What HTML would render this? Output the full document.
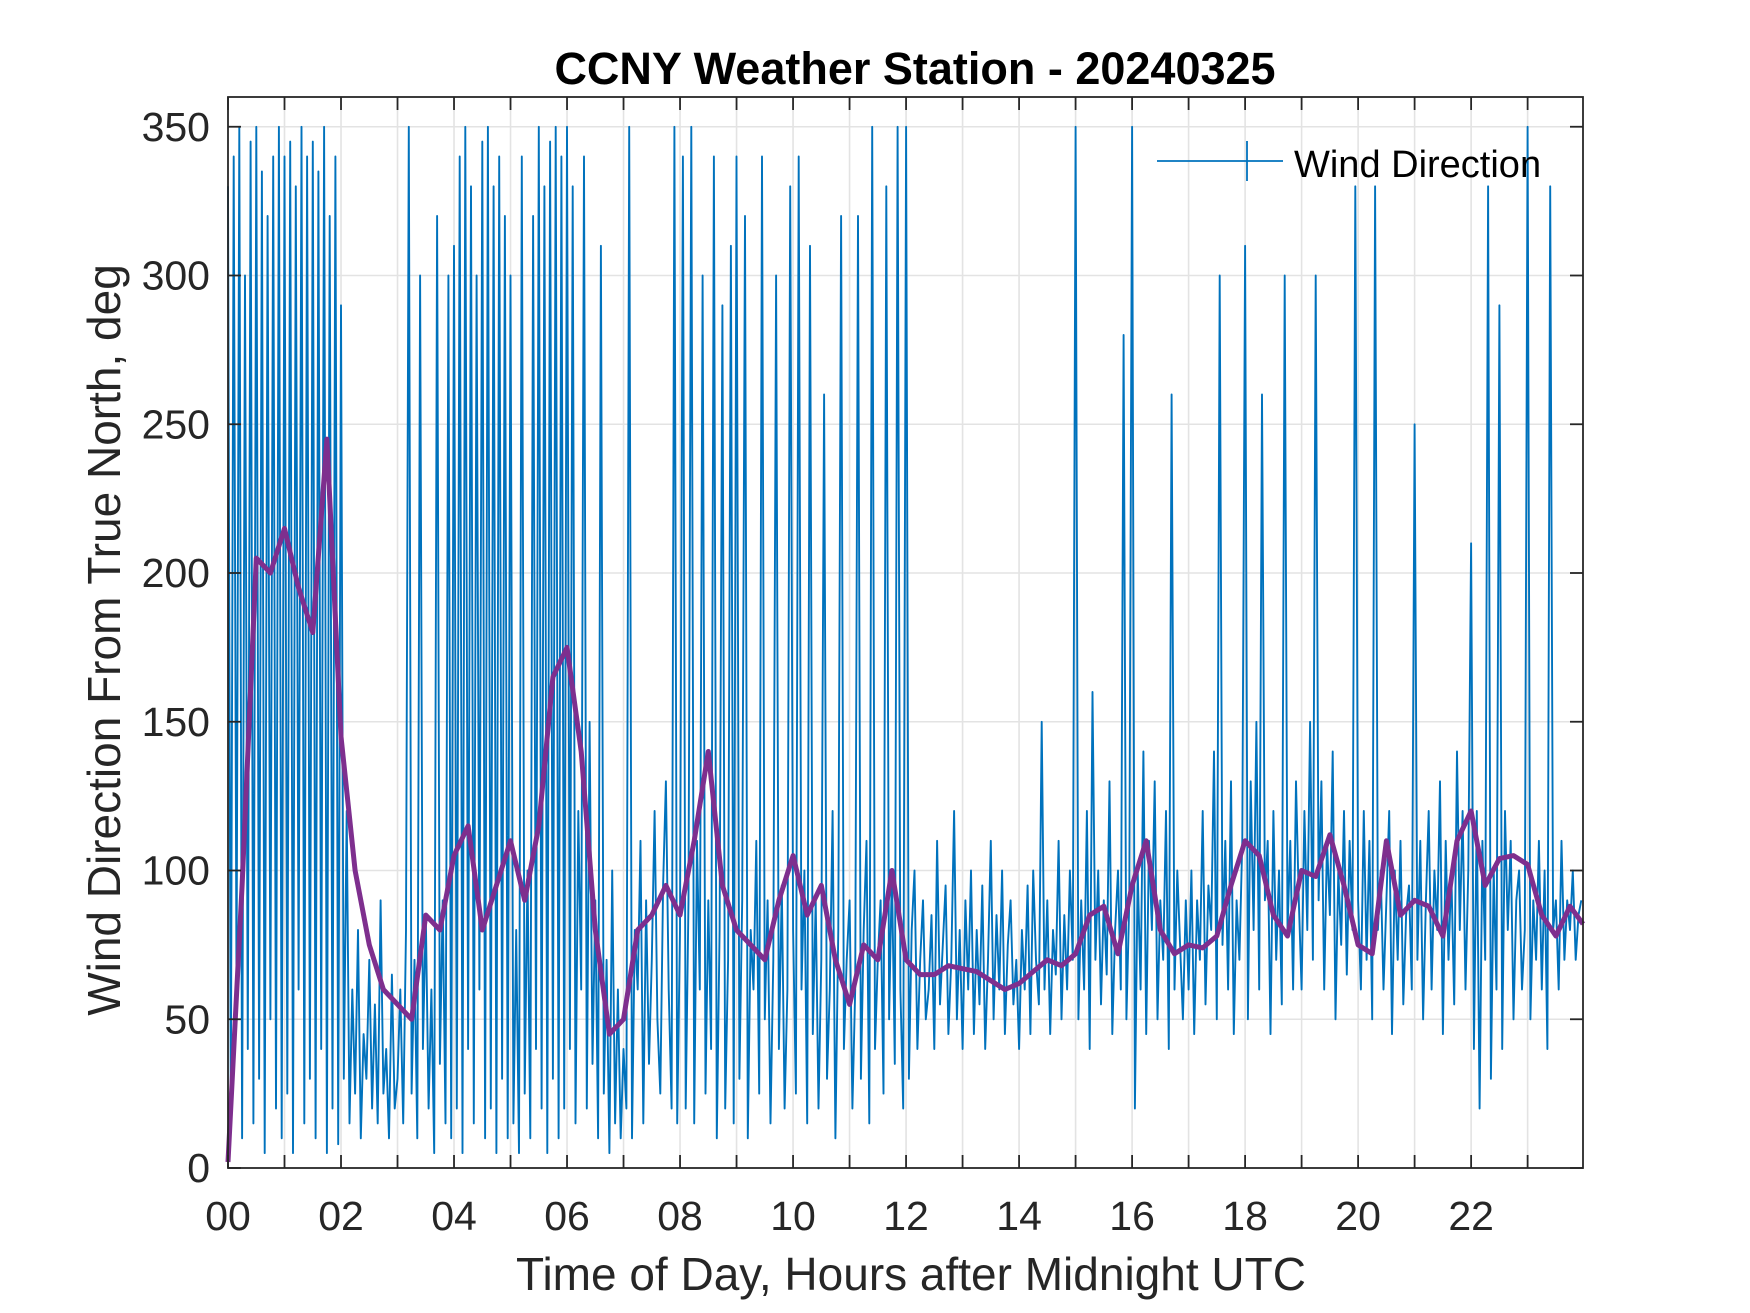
<!DOCTYPE html>
<html><head><meta charset="utf-8"><style>
html,body{margin:0;padding:0;background:#fff;}
svg{display:block;font-family:"Liberation Sans",Arial,sans-serif;}
</style></head><body>
<svg id="chart" width="1750" height="1313" viewBox="0 0 1750 1313" xmlns="http://www.w3.org/2000/svg">
<rect width="1750" height="1313" fill="#fff"/>
<text x="915" y="84" text-anchor="middle" font-size="45" font-weight="bold" fill="#000">CCNY Weather Station - 20240325</text>
<g id="grid"></g>
<g id="series"></g>
<g id="axes"></g>
<text x="911" y="1290" text-anchor="middle" font-size="46" fill="#262626">Time of Day, Hours after Midnight UTC</text>
<text transform="translate(120,640) rotate(-90)" text-anchor="middle" font-size="46" fill="#262626">Wind Direction From True North, deg</text>
<g>
<line x1="1157" y1="161" x2="1283" y2="161" stroke="#0072bd" stroke-width="1.8"/>
<line x1="1247" y1="141" x2="1247" y2="181" stroke="#0072bd" stroke-width="1.8"/>
<text x="1294" y="177" font-size="38" fill="#000">Wind Direction</text>
</g>
</svg>
<script>
const blueValues = [
330,20,340,60,350,10,300,40,345,15,350,30,335,5,320,50,340,20,350,10,
340,25,345,5,330,60,350,15,340,30,345,10,335,40,350,5,320,20,340,8,
290,30,120,15,60,25,80,10,45,30,70,20,55,15,90,25,40,10,65,20,
30,60,15,80,350,25,70,10,300,40,85,20,60,5,320,35,90,15,300,10,
310,20,340,5,350,40,330,15,300,60,345,10,350,20,330,5,340,30,320,10,
300,15,80,5,340,25,100,10,320,40,350,20,330,5,345,30,350,10,340,20,
350,40,330,15,120,60,340,20,150,35,90,10,310,25,70,5,100,15,60,10,
40,20,350,10,80,60,110,15,90,35,70,120,50,25,95,130,60,20,350,15,
80,340,20,90,350,15,110,60,300,25,90,40,340,10,80,290,20,70,310,15,
340,30,90,320,10,80,60,110,25,340,50,90,15,70,300,40,95,20,60,330,
80,25,340,60,100,15,310,45,90,20,70,260,30,60,120,10,80,320,40,70,
90,20,60,320,30,80,110,15,350,40,70,90,25,330,50,100,35,350,60,20,
350,30,80,100,40,70,90,50,60,85,40,110,55,75,95,45,70,120,50,80,
40,90,60,100,45,80,55,95,40,70,110,50,85,60,100,45,75,90,55,70,
40,80,60,95,45,100,70,55,150,60,90,45,80,65,110,50,85,60,100,70,
350,50,90,60,120,40,160,70,100,55,90,65,130,45,80,100,60,280,50,90,
350,20,100,60,140,45,110,80,130,50,90,70,120,40,260,60,100,75,50,90,
60,100,45,90,70,120,55,95,80,140,50,300,75,110,60,130,45,90,70,110,
310,50,130,80,150,60,260,90,110,45,120,70,100,55,300,80,110,60,130,90,
60,120,80,150,70,300,90,130,60,110,85,140,50,100,75,120,65,110,80,330,
90,60,120,70,110,50,330,80,100,60,90,120,45,100,70,110,55,85,95,60,
250,70,110,50,90,120,60,100,80,130,45,110,70,100,55,140,80,120,60,100,
210,40,120,20,110,70,330,30,100,60,290,40,120,80,110,50,90,100,60,80,
350,50,90,70,110,60,100,40,330,80,90,60,110,70,90,80,100,70,85,90
];
const blueStepHours = 0.05;
const avgValues = [2,95,205,200,215,195,180,245,145,100,75,60,55,50,85,80,105,115,80,95,110,90,115,165,175,140,80,45,50,80,85,95,85,110,140,95,80,75,70,90,105,85,95,70,55,75,70,100,70,65,65,68,67,66,63,60,62,66,70,68,72,85,88,72,95,110,80,72,75,74,78,95,110,105,85,78,100,98,112,95,75,72,110,85,90,88,78,110,120,95,104,105,102,85,78,88,82];
const avgStepHours = 0.25;
const yTicks = [0,50,100,150,200,250,300,350];
const xTickLabels = ["00","02","04","06","08","10","12","14","16","18","20","22"];

const NS = "http://www.w3.org/2000/svg";
const L = 228, R = 1583, T = 97, B = 1168;
const xMin = 0, xMax = 23.98, yMin = 0, yMax = 360;
function xs(h){ return L + (h - xMin) / (xMax - xMin) * (R - L); }
function ys(v){ return B - (v - yMin) / (yMax - yMin) * (B - T); }
function mk(tag, attrs, parent){ const e = document.createElementNS(NS, tag); for (const k in attrs) e.setAttribute(k, attrs[k]); parent.appendChild(e); return e; }

const grid = document.getElementById('grid');
const axes = document.getElementById('axes');
const series = document.getElementById('series');

for (let h = 1; h < 24; h++) {
  const g = mk('line', {x1: xs(h), x2: xs(h), y1: T, y2: B, stroke: '#e3e3e3', 'stroke-width': 1.6}, grid);
  
  
}
yTicks.forEach(v => {
  if (v === 0) return;
  const g = mk('line', {x1: L, x2: R, y1: ys(v), y2: ys(v), stroke: '#e3e3e3', 'stroke-width': 1.6}, grid);
  
  
});

let d = '';
blueValues.forEach((v, i) => { const h = Math.min(i * blueStepHours, xMax); d += (i ? 'L' : 'M') + xs(h).toFixed(1) + ' ' + ys(v).toFixed(1); });
const bl = mk('path', {d: d, fill: 'none', stroke: '#0072bd', 'stroke-width': 1.9, 'stroke-linejoin': 'round'}, series);



let d2 = '';
avgValues.forEach((v, i) => { const h = Math.min(i * avgStepHours, xMax); d2 += (i ? 'L' : 'M') + xs(h).toFixed(1) + ' ' + ys(v).toFixed(1); });
const pl = mk('path', {d: d2, fill: 'none', stroke: '#7e2f8e', 'stroke-width': 5, 'stroke-linejoin': 'round'}, series);



const box = mk('rect', {x: L, y: T, width: R - L, height: B - T, fill: 'none', stroke: '#262626', 'stroke-width': 1.8}, axes);



for (let h = 0; h < 24; h++) {
  const x = xs(h);
  const t1 = mk('line', {x1: x, x2: x, y1: B, y2: B - 13, stroke: '#262626', 'stroke-width': 1.8}, axes);
  
  
  const t2 = mk('line', {x1: x, x2: x, y1: T, y2: T + 13, stroke: '#262626', 'stroke-width': 1.8}, axes);
  
  
}
xTickLabels.forEach((lab, i) => {
  const t = mk('text', {x: xs(i * 2), y: 1230, 'text-anchor': 'middle', 'font-size': 41, fill: '#262626'}, axes);
  t.textContent = lab;
  
  
});
yTicks.forEach(v => {
  const y = ys(v);
  const a = mk('line', {x1: L, x2: L + 13, y1: y, y2: y, stroke: '#262626', 'stroke-width': 1.8}, axes);
  
  
  const b = mk('line', {x1: R, x2: R - 13, y1: y, y2: y, stroke: '#262626', 'stroke-width': 1.8}, axes);
  
  
  const t = mk('text', {x: 210, y: y + 14, 'text-anchor': 'end', 'font-size': 41, fill: '#262626'}, axes);
  t.textContent = v;
  
  
});
</script>
</body></html>
